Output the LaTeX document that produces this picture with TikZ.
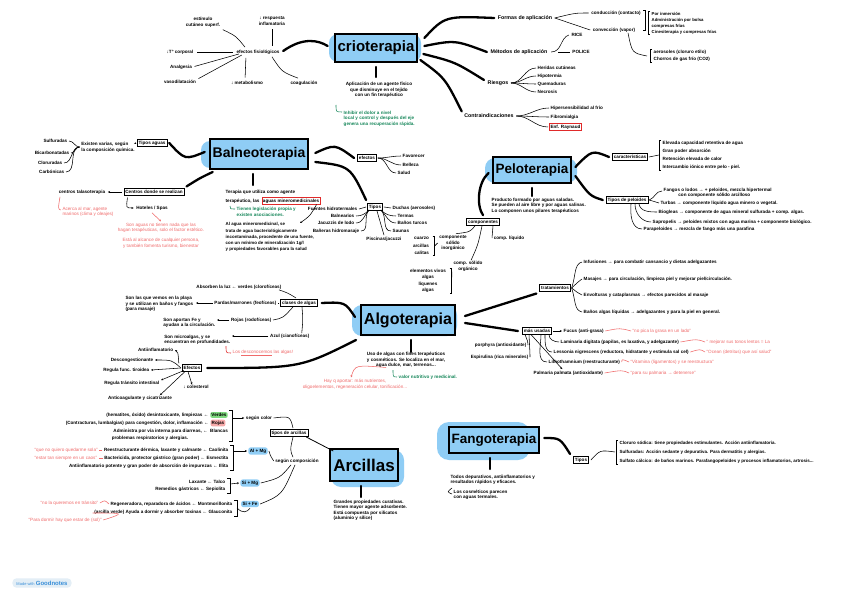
\documentclass[tikz,border=0pt]{standalone}
\usepackage{fontspec}
\setmainfont{Liberation Sans}
\usetikzlibrary{calc,arrows.meta}
\definecolor{skyb}{HTML}{8FCDF5}
\definecolor{grn}{HTML}{16875A}
\definecolor{redt}{HTML}{F06A6A}
\definecolor{redb}{HTML}{E02A2A}
\definecolor{pillg}{HTML}{7ED87E}
\definecolor{pillr}{HTML}{F7AAAA}
\definecolor{gnbg}{HTML}{E3EEF6}
\definecolor{gnblue}{HTML}{3A8FD8}
\begin{document}
\begin{tikzpicture}[x=1pt,y=1pt,
  tx/.style={font=\bfseries\fontsize{4.6}{5.6}\selectfont, inner sep=0.5pt, align=left},
  txc/.style={tx, align=center},
  txl/.style={font=\bfseries\fontsize{4.6}{7.5}\selectfont, inner sep=0.5pt, align=left},
  l1/.style={font=\bfseries\fontsize{5.3}{6}\selectfont, inner sep=0.5pt},
  gr/.style={tx, text=grn},
  rd/.style={tx, font=\fontsize{4.6}{5.6}\selectfont, text=redt},
  bx/.style={tx, draw, line width=0.7pt, inner sep=1.5pt},
  pill/.style={tx, fill=skyb, rounded corners=2.5pt, inner sep=1.5pt},
  ttl/.style={draw, line width=2pt, fill=skyb, inner sep=3pt},
  thk/.style={line width=2.3pt, line cap=round},
  thn/.style={line width=0.55pt},
  arr/.style={thn, -{Stealth[length=2.2pt,width=2pt]}}
]
\useasboundingbox (0,0) rectangle (848,-599);
\fill[white] (0,0) rectangle (848,-599);

% ================= CRIOTERAPIA =================
\fill[skyb, rounded corners=9pt] (329,-34) rectangle (421,-62);
\node[ttl, font=\bfseries\fontsize{15}{15}\selectfont, minimum height=28pt] (crio) at (376,-48) {crioterapia};
\draw[thk] ([yshift=-4]crio.south) -- ++(0,-10);
\node[txc] (crioDef) at (379,-90) {Aplicación de un agente físico\\que disminuye en el tejido\\con un fin terapéutico};
\node[gr, anchor=north west] (crioGr) at (343,-110) {Inhibir el dolor a nivel\\local y control y después del eje\\genera una recuperación rápida.};
\draw[grn, thn] (336,-105) .. controls (336,-112) .. (342,-112);

\node[tx] (efis) at (258,-52) {efectos fisiológicos};
\draw[thk] ([shift={(3,1)}]efis.east) .. controls (303,-37) and (318,-40) .. ([shift={(-6,2)}]crio.west);
\node[txc] (resp) at (272,-21) {↓ respuesta\\inflamatoria};
\draw[thn, shorten <=3pt, shorten >=3pt] (resp.south) -- (efis.north -| resp.south);
\node[txc] (estim) at (203,-22) {estímulo\\cutáneo superf.};
\draw[thn] ([shift={(2,-2)}]estim.south east) .. controls (236,-36) .. ([shift={(-13,2)}]efis.north);
\node[tx] (tcorp) at (180,-52) {↓T° corporal};
\draw[thn, shorten <=3pt, shorten >=3pt] (tcorp.east) -- (efis.west);
\node[tx] (analg) at (181,-67) {Analgesia};
\draw[thn, shorten <=2pt] (analg.east) -- ([shift={(3,-2)}]efis.west);
\node[tx] (vaso) at (180,-82) {vasodilatación};
\draw[thn, shorten <=2pt] (vaso.north east) -- ([shift={(6,-3)}]efis.west);
\node[tx] (metab) at (247,-83) {↓ metabolismo};
\draw[thn, shorten <=3pt, shorten >=3pt] ([xshift=-12]efis.south) -- ([xshift=-2]metab.north);
\node[tx] (coag) at (304,-83) {coagulación};
\draw[thn] ([shift={(14,-2)}]efis.south) .. controls (282,-72) .. ([shift={(-6,2)}]coag.north);

\node[l1] (formas) at (525,-18) {Formas de aplicación};
\node[l1] (metod) at (519,-52) {Métodos de aplicación};
\node[l1] (riesg) at (498,-83) {Riesgos};
\node[l1] (contra) at (489,-116) {Contraindicaciones};
\draw[thk] ([shift={(6,10)}]crio.east) .. controls (445,-16) .. ([xshift=-3]formas.west);
\draw[thk] ([shift={(6,2)}]crio.east) .. controls (455,-40) .. ([xshift=-3]metod.west);
\draw[thk] ([shift={(5,-6)}]crio.east) .. controls (455,-62) .. ([shift={(-3,3)}]riesg.west);
\draw[thk] ([shift={(2,-12)}]crio.east) .. controls (445,-78) .. ([shift={(-2,2)}]contra.north west);

\node[tx] (cond) at (616,-13) {conducción (contacto)};
\node[tx] (conv) at (614,-30) {convección (vapor)};
\draw[thn] ([xshift=2]formas.east) .. controls (575,-13) .. ([xshift=-2]cond.west);
\draw[thn] ([xshift=2]formas.east) -- ([xshift=-2]conv.west);
\draw[thn] ([xshift=2]cond.north east) -- ++(2,0) |- ([shift={(2,-14)}]cond.south east);
\node[tx, anchor=west, font=\bfseries\fontsize{4.3}{6}\selectfont] (fl1) at (651,-23) {Por inmersión\\Administración por bolsa\\compresas frías\\Cinesiterapia y compresas frías};
\draw[thn] ([xshift=-1]fl1.north west) -- ++(-2,0) |- ([xshift=-1]fl1.south west);
\node[txl, anchor=west] (fl2) at (653,-56) {aerosoles (cloruro etilo)\\Chorros de gas frío (CO2)};
\draw[thn] ([xshift=-1]fl2.north west) -- ++(-2,0) |- ([xshift=-1]fl2.south west);
\draw[thn] ([xshift=14]conv.south) .. controls (632,-53) .. ([xshift=-6]fl2.west);

\node[tx] (rice) at (577,-35) {RICE};
\node[tx] (police) at (581,-52) {POLICE};
\draw[thn] ([xshift=3]metod.east) .. controls (562,-52) and (560,-38) .. ([xshift=-2]rice.west);
\draw[thn] ([xshift=10]metod.east) -- ([xshift=-2]police.west);

\node[tx, anchor=west] (ri1) at (537,-68) {Heridas cutáneas};
\node[tx, anchor=west] (ri2) at (537,-76) {Hipotermia};
\node[tx, anchor=west] (ri3) at (537,-84) {Quemaduras};
\node[tx, anchor=west] (ri4) at (537,-92) {Necrosis};
\foreach \n in {ri1,ri2,ri3,ri4} \draw[thn] ([xshift=2]riesg.east) to[out=0,in=180] ([xshift=-1]\n.west);

\node[tx, anchor=west] (co1) at (550,-108) {Hipersensibilidad al frío};
\node[tx, anchor=west] (co2) at (550,-117) {Fibromialgia};
\node[tx, anchor=west, draw=redb, line width=0.7pt, inner sep=1.2pt] (co3) at (549,-127) {Enf. Raynaud};
\foreach \n in {co1,co2,co3} \draw[thn] ([xshift=2]contra.east) to[out=0,in=180] ([xshift=-1]\n.west);

% ================= BALNEOTERAPIA =================
\fill[skyb, rounded corners=9pt] (201,-141) rectangle (306,-168);
\node[ttl, font=\bfseries\fontsize{14}{14}\selectfont, minimum height=30pt] (balneo) at (259,-154) {Balneoterapia};
\node[bx] (tagua) at (152,-143) {Tipos aguas};
\draw[thk] ([shift={(-4,2)}]balneo.west) .. controls (185,-160) .. ([xshift=2]tagua.east);
\node[tx] (exist) at (108,-147) {Existen varias, según\\la composición química.};
\draw[arr] ([xshift=-2]tagua.west) -- ([shift={(1,3)}]exist.east);
\node[tx, anchor=east] (w1) at (68,-141) {Sulfuradas};
\node[tx, anchor=east] (w2) at (70,-153) {Bicarbonatadas};
\node[tx, anchor=east] (w3) at (63,-163) {Cloruradas};
\node[tx, anchor=east] (w4) at (65,-172) {Carbónicas};
\foreach \n in {w1,w2,w3,w4} \draw[thn] ([xshift=-1]exist.west) to[out=180,in=0] ([xshift=1]\n.east);

\node[bx] (centros) at (154,-192) {Centros donde se realizan};
\draw[thk] ([shift={(4,-2)}]balneo.south west) .. controls (200,-178) .. ([shift={(2,2)}]centros.north east);
\node[tx] (talaso) at (82,-192) {centros talasoterapia};
\draw[arr] ([xshift=-2]centros.west) -- ([xshift=2]talaso.east);
\node[rd] (acerca) at (88,-212) {Acerca al mar, agente\\marinos (clima y oleajes)};
\draw[redt, thn] ([shift={(-22,-2)}]talaso.south) .. controls (58,-209) .. ([shift={(-1,2)}]acerca.west);
\node[tx] (hoteles) at (152,-208) {Hoteles / Spas};
\draw[arr] ([shift={(4,-2)}]centros.south west) .. controls (126,-208) .. ([xshift=-2]hoteles.west);
\node[rd, align=center] (sonag) at (161,-228) {Son aguas no tienen nada que las\\hagan terapéuticas, solo el factor estético.};
\draw[redt, thn, -{Stealth[length=2pt,width=2pt]}] ([yshift=-2]hoteles.south) -- ([yshift=1]sonag.north);
\node[rd, align=center] (alcance) at (161,-243) {Está al alcance de cualquier persona,\\y también fomenta turismo, bienestar};

\draw[thk] ([shift={(-6,-4)}]balneo.south) -- ++(0,-11);
\node[tx, anchor=west] (bd1) at (225,-192) {Terapia que utiliza como agente};
\node[tx, anchor=west] (bd2) at (225,-201) {terapéutico, las};
\node[tx, anchor=west, draw=redb, line width=0.7pt, inner sep=1pt] (bd3) at ([xshift=1.5]bd2.east) {aguas mineromedicinales};
\node[gr, anchor=west] (bgr) at (236,-212) {Tienen legislación propia y\\existen asociaciones.};
\draw[grn, thn] (230,-206) .. controls (230,-209) .. (235,-209);
\node[tx, anchor=north west, font=\bfseries\fontsize{4.4}{6.2}\selectfont] (bagua) at (225,-222) {Al agua mineromedicinal, se\\trata de agua bacteriológicamente\\incontaminada, procedente de una fuente,\\con un mínimo de mineralización 1g/l\\y propiedades favorables para la salud};
\draw[arr] ([xshift=-4]bd3.south east) .. controls (310,-216) .. ([shift={(75,-1)}]bagua.north west);

\node[bx] (befec) at (367,-158) {efectos};
\draw[thk] ([shift={(6,1)}]balneo.east) .. controls (335,-144) .. ([xshift=-3]befec.west);
\node[tx, anchor=west] (bf1) at (402,-156) {Favorecer};
\node[tx, anchor=west] (bf2) at (402,-165) {Belleza};
\node[tx, anchor=west] (bf3) at (397,-173) {Salud};
\foreach \n in {bf1,bf2,bf3} \draw[thn] ([xshift=1]befec.east) to[out=0,in=180] ([xshift=-1]\n.west);

\node[bx] (btip) at (375,-207) {Tipos};
\draw[thk] ([shift={(6,-8)}]balneo.east) .. controls (350,-166) .. ([shift={(-1,3)}]btip.north west);
\node[tx, anchor=east] (bt1) at (358,-209) {Fuentes hidrotermales};
\node[tx, anchor=east] (bt2) at (355,-216) {Balnearios};
\node[tx, anchor=east] (bt3) at (355,-223) {Jacuzzis de lodo};
\node[tx, anchor=east] (bt4) at (360,-231) {Bañeras hidromasaje};
\node[tx] (bt5) at (384,-239) {Piscinas/jacuzzi};
\node[tx, anchor=west] (bt6) at (392,-208) {Duchas (aerosoles)};
\node[tx, anchor=west] (bt7) at (397,-216) {Termas};
\node[tx, anchor=west] (bt8) at (397,-223) {Baños turcos};
\node[tx, anchor=west] (bt9) at (392,-231) {Saunas};
\draw[thn] ([xshift=-1]btip.west) -- ([xshift=1]bt1.east);
\foreach \n in {bt2,bt3,bt4} \draw[thn] ([shift={(2,1)}]btip.south west) to[out=-135,in=0] ([xshift=1]\n.east);
\draw[thn] ([xshift=2]btip.south) -- ([yshift=1]bt5.north);
\draw[thn] ([xshift=1]btip.east) -- ([xshift=-1]bt6.west);
\foreach \n in {bt7,bt8,bt9} \draw[thn] ([shift={(-2,1)}]btip.south east) to[out=-45,in=180] ([xshift=-1]\n.west);

% ================= PELOTERAPIA =================
\fill[skyb, rounded corners=10pt] (485,-158) rectangle (577,-183);
\node[ttl, font=\bfseries\fontsize{13.5}{13.5}\selectfont, minimum height=26pt] (pelo) at (532,-170) {Peloterapia};
\draw[thk] ([yshift=-4]pelo.south) -- ++(0,-8);
\node[tx, anchor=north west] (pdef) at (491,-197) {Producto formado por aguas saladas.\\Se pueden al aire libre y por aguas salinas.\\Lo componen unos pilares terapéuticos};
\node[bx] (pcomp) at (483,-222) {componentes};
\draw[thk] ([shift={(-3,-3)}]pelo.west) .. controls (478,-182) and (476,-205) .. ([yshift=3]pcomp.north);
\node[tx] (pliq) at (509,-238) {comp. líquido};
\draw[thn] ([xshift=10]pcomp.south) .. controls (492,-238) .. ([xshift=-1]pliq.west);
\node[txc] (pinorg) at (453,-243) {componente\\sólido\\inorgánico};
\draw[thn] ([xshift=-8]pcomp.south) .. controls (470,-232) .. ([shift={(3,1)}]pinorg.north);
\node[txl, align=right] (pmin) at (421,-246) {cuarzo\\arcillas\\calitas};
\draw[thn] ([xshift=3]pmin.north east) -- ++(2,0) |- ([xshift=3]pmin.south east);
\draw[thn] ([xshift=5]pmin.east) -- ([xshift=-1]pinorg.west);
\node[txc] (porg) at (468,-266) {comp. sólido\\orgánico};
\draw[thn] ([xshift=-1]pcomp.south) .. controls (478,-245) .. ([xshift=3]porg.north);
\node[tx, align=center, font=\bfseries\fontsize{4.6}{6.4}\selectfont] (pviv) at (428,-281) {elementos vivos\\algas\\líquenes\\algas};
\draw[thn] ([xshift=3]pviv.north east) -- ++(2,0) |- ([xshift=3]pviv.south east);
\draw[thn] ([xshift=5]pviv.east) -- ([xshift=-1]porg.south west);

\node[bx] (pcar) at (630,-157) {características};
\draw[thk] ([shift={(3,3)}]pelo.east) .. controls (592,-150) .. ([xshift=-3]pcar.west);
\node[txl, anchor=west, font=\bfseries\fontsize{4.6}{8}\selectfont] (pcarl) at (662,-155) {Elevada capacidad retentiva de agua\\Gran poder absorción\\Retención elevada de calor\\Intercambio iónico entre pelo - piel.};
\draw[thn] ([xshift=-1]pcarl.north west) -- ++(-2,0) |- ([xshift=-1]pcarl.south west);
\draw[thn] ([xshift=1]pcar.east) -- ([xshift=-3]pcarl.west);

\node[bx] (ppel) at (627,-200) {Tipos de peloides};
\draw[thk] ([shift={(3,-6)}]pelo.east) .. controls (590,-196) .. ([xshift=-3]ppel.west);
\node[tx, anchor=west] (pel1) at (663,-193) {Fangos o lodos → + peloides, mezcla hipertermal\\\hspace*{3.2em}con componente sólido arcilloso};
\node[tx, anchor=west] (pel2) at (660,-203) {Turbas → componente líquido agua minero o vegetal.};
\node[tx, anchor=west] (pel3) at (658,-212) {Biogleas → componente de agua mineral sulfurada + comp. algas.};
\node[tx, anchor=west] (pel4) at (652,-222) {Sapropelis → peloides mixtos con agua marina + componente biológico.};
\node[tx, anchor=west] (pel5) at (643,-229) {Parapeloides → mezcla de fango más una parafina};
\draw[thn] ([xshift=1]ppel.east) to[out=20,in=180] ([shift={(-1,2)}]pel1.west);
\draw[thn] ([xshift=1]ppel.east) to[out=0,in=180] ([xshift=-1]pel2.west);
\draw[thn] ([xshift=12]ppel.south) to[out=-80,in=180] ([xshift=-1]pel3.west);
\draw[thn] ([xshift=8]ppel.south) to[out=-90,in=180] ([xshift=-1]pel4.west);
\draw[thn] ([xshift=4]ppel.south) to[out=-95,in=180] ([xshift=-1]pel5.west);

% ================= ALGOTERAPIA =================
\fill[skyb, rounded corners=10pt] (352,-305) rectangle (457,-336);
\node[ttl, font=\bfseries\fontsize{16}{16}\selectfont, minimum height=30pt] (algo) at (408,-320) {Algoterapia};
\draw[thk] ([shift={(3,-4)}]algo.south) -- ++(0,-12);
\node[txc] (adef) at (406,-360) {Uso de algas con fines terapéuticos\\y cosméticos. Se localiza en el mar,\\agua dulce, mar, terrenos...};
\node[gr, anchor=west] (agr) at (398,-377) {valor nutritivo y medicinal.};
\draw[grn, thn] (393,-370) .. controls (393,-377) .. ([xshift=-1]agr.west);
\node[rd, align=center] (ard) at (355,-384) {Hay q aportar: más nutrientes,\\oligoelementos, regeneración celular, tonificación...};
\draw[redt, thn, -{Stealth[length=2pt,width=2pt]}] ([shift={(-20,1)}]adef.south) .. controls (355,-365) .. ([shift={(-4,1)}]ard.north);

\node[bx] (aclas) at (299,-303) {clases de algas};
\draw[thk] ([shift={(-5,3)}]algo.west) .. controls (345,-302) .. ([xshift=4]aclas.east);
\node[tx, anchor=east] (averd) at (282,-287) {Absorben la luz ← verdes (clorofíceas)};
\draw[thn] ([shift={(-3,1)}]aclas.north) .. controls (288,-293) .. ([xshift=-3]averd.south east);
\node[tx, anchor=east] (apard) at (277,-303) {Pardas/marrones (feofíceas)};
\draw[thn] ([xshift=-1]aclas.west) -- ([xshift=1]apard.east);
\node[tx, anchor=east] (apardd) at (194,-304) {Son las que vemos en la playa\\y se utilizan en baños y fangos\\(para masaje)};
\draw[arr] ([xshift=-1]apard.west) -- ([shift={(2,1)}]apardd.east);
\node[tx, anchor=east] (aroj) at (272,-320) {Rojas (rodofíceas)};
\draw[thn] ([xshift=-6]aclas.south) .. controls (283,-318) .. ([xshift=1]aroj.east);
\node[tx, anchor=east] (arojd) at (216,-323) {Son aportan Fe y\\ayudan a la circulación.};
\draw[arr] ([xshift=-1]aroj.west) -- ([shift={(1,3)}]arojd.east);
\node[tx, anchor=east] (aazul) at (310,-336) {Azul (cianofíceas)};
\draw[thn] ([xshift=3]aclas.south) .. controls (303,-320) .. ([xshift=12]aazul.north);
\node[tx, anchor=east] (aazuld) at (231,-340) {Son microalgas, y se\\encuentran en profundidades.};
\draw[arr] ([xshift=-1]aazul.west) -- ([shift={(1,4)}]aazuld.east);
\node[rd, anchor=west] (adesc) at (232,-353) {Los \underline{desconocemos} las algas!};
\draw[redb, thn] (226,-346) .. controls (226,-353) .. ([xshift=-1]adesc.west);

\node[bx] (aefec) at (192,-368) {Efectos};
\draw[thk] ([shift={(-4,-4)}]algo.south west) .. controls (300,-368) .. ([xshift=5]aefec.east);
\node[tx, anchor=east] (ae1) at (174,-350) {Antiinflamatorio};
\node[tx, anchor=east] (ae2) at (154,-360) {Descongestionante};
\node[tx, anchor=east] (ae3) at (150,-370) {Regula func. tiroidea};
\node[tx, anchor=east] (ae4) at (160,-383) {Regula tránsito intestinal};
\node[tx] (ae5) at (196,-387) {↓ colesterol};
\node[tx] (ae6) at (140,-398) {Anticoagulante y cicatrizante};
\draw[arr] ([shift={(-3,1)}]aefec.north west) .. controls (178,-352) .. ([xshift=1]ae1.east);
\draw[arr] ([xshift=-1]aefec.west) .. controls (172,-360) .. ([xshift=1]ae2.east);
\draw[arr] ([xshift=-1]aefec.west) -- ([xshift=1]ae3.east);
\draw[arr] ([shift={(2,1)}]aefec.south west) -- ([xshift=1]ae4.north east);
\draw[arr] ([xshift=-4]aefec.south) -- ([xshift=-4]ae5.north);
\draw[arr] ([xshift=-7]aefec.south) -- ([xshift=20]ae6.north);

\node[bx] (atrat) at (555,-288) {tratamientos};
\draw[thk] ([shift={(9,4)}]algo.east) -- ([shift={(-3,-2)}]atrat.south west);
\node[tx, anchor=west] (tr1) at (583,-262) {Infusiones → para combatir cansancio y dietas adelgazantes};
\node[tx, anchor=west] (tr2) at (583,-279) {Masajes → para circulación, limpieza piel y mejorar piel/circulación.};
\node[tx, anchor=west] (tr3) at (583,-295) {Envolturas y cataplasmas → efectos parecidos al masaje};
\node[tx, anchor=west] (tr4) at (583,-312) {Baños algas líquidas → adelgazantes y para la piel en general.};
\draw[thn] ([xshift=1]atrat.east) .. controls (576,-275) and (574,-264) .. ([xshift=-1]tr1.west);
\draw[thn] ([xshift=1]atrat.east) .. controls (578,-282) .. ([xshift=-1]tr2.west);
\draw[thn] ([xshift=1]atrat.east) .. controls (578,-293) .. ([xshift=-1]tr3.west);
\draw[thn] ([xshift=1]atrat.east) .. controls (576,-302) and (574,-310) .. ([xshift=-1]tr4.west);

\node[bx] (amas) at (537,-331) {más usadas};
\draw[thk] ([shift={(9,-3)}]algo.east) -- ([xshift=-4]amas.west);
\node[tx, anchor=west] (mu1) at (563,-331) {Fucus (anti-grasa)};
\draw[arr] ([xshift=1]amas.east) -- ([xshift=-1]mu1.west);
\node[tx, anchor=west] (mu2) at (560,-342) {Laminaria digitata (papilas, es laxativa, y adelgazante)};
\node[tx, anchor=west] (mu3) at (553,-352) {Lessonia nigrescens (reductora, hidratante y estimula sal cel)};
\node[tx, anchor=west] (mu4) at (548,-362) {Lithothamnium (reestructurante)};
\node[tx, anchor=west] (mu5) at (533,-373) {Palmaria palmata (antioxidante)};
\draw[thn] ([xshift=12]amas.south) to[out=-90,in=180] ([xshift=-1]mu2.west);
\draw[thn] ([xshift=8]amas.south) to[out=-90,in=180] ([xshift=-1]mu3.west);
\draw[thn] ([xshift=4]amas.south) to[out=-90,in=180] ([xshift=-1]mu4.west);
\draw[arr] ([xshift=-6]amas.south) -- ([xshift=-6,yshift=1]mu5.north);
\node[tx, anchor=east] (mu6) at (527,-345) {porphyra (antioxidante)};
\node[tx, anchor=east] (mu7) at (529,-357) {Espirulina (rica minerales)};
\draw[thn] ([xshift=-12]amas.south) .. controls (528,-342) .. ([xshift=1]mu6.east);
\draw[thn] ([xshift=-8]amas.south) .. controls (530,-354) .. ([xshift=1]mu7.east);
\node[rd, anchor=west] (mr1) at (632,-331) {“no pica la grasa en un lado”};
\node[rd, anchor=west] (mr2) at (706,-342) {“ mejorar sus tonos lentos = La};
\node[rd, anchor=west] (mr3) at (706,-352) {“Ocean (detritus) que así salud”};
\node[rd, anchor=west] (mr4) at (630,-362) {“Vitamina (ligamentos) y se reestructura”};
\node[rd, anchor=west] (mr5) at (630,-373) {“para su palmaria → detenerse”};
\draw[redt, thn] ([xshift=1]mu1.east) .. controls (620,-328) .. ([xshift=-1]mr1.west);
\draw[redt, thn] ([xshift=1]mu2.east) .. controls (697,-339) .. ([xshift=-1]mr2.west);
\draw[redt, thn] ([xshift=1]mu3.east) .. controls (700,-349) .. ([xshift=-1]mr3.west);
\draw[redt, thn] ([xshift=1]mu4.east) .. controls (622,-359) .. ([xshift=-1]mr4.west);
\draw[redt, thn] ([xshift=1]mu5.east) .. controls (622,-370) .. ([xshift=-1]mr5.west);

% ================= ARCILLAS =================
\fill[skyb, rounded corners=10pt] (331,-450) rectangle (404,-487);
\node[ttl, font=\bfseries\fontsize{17}{17}\selectfont, minimum height=32pt] (arci) at (364,-465) {Arcillas};
\draw[thk] ([shift={(-3,-4)}]arci.south) -- ++(0,-11);
\node[tx, anchor=north west] (arcdef) at (333,-499) {Grandes propiedades curativas.\\Tienen mayor agente adsorbente.\\Está compuesta por silicatos\\(aluminio y sílice)};
\node[bx] (atip) at (289,-433) {tipos de arcillas};
\draw[line width=0.8pt] ([xshift=-2]atip.south east) -- ([shift={(4,-3)}]arci.north west);
\node[tx] (scol) at (259,-418) {según color};
\draw[thn] ([xshift=1]scol.east) .. controls (290,-416) .. ([xshift=4,yshift=1]atip.north);
\node[tx] (scomp) at (297,-461) {según composición};
\draw[thn] ([xshift=4]atip.south) .. controls (290,-450) .. ([xshift=-4,yshift=1]scomp.north);

\node[tx, fill=pillg, rounded corners=2pt, inner sep=1.2pt] (verd) at (219,-415) {Verdes};
\node[tx, fill=pillr, rounded corners=2pt, inner sep=1.2pt] (roj) at (218,-423) {Rojas};
\node[tx] (blan) at (219,-431) {Blancas};
\node[tx, anchor=east] (cv1) at ([xshift=-1]verd.west) {(hematites, óxido) desintoxicante, limpiezas ←};
\node[tx, anchor=east] (cv2) at ([xshift=-1]roj.west) {(Contracturas, lumbalgias) para congestión, dolor, inflamación ←};
\node[tx, anchor=east] (cv3) at ([xshift=-1]blan.west) {Administra por vía interna para diarreas, ←};
\node[tx] (cv4) at (150,-438) {problemas respiratorios y alergias.};
\draw[thn] (229,-410) -- (232,-410) -- (232,-441) -- (229,-441);
\draw[arr] (232,-418) -- ([xshift=-1]scol.west);

\node[pill] (p1) at (258,-451) {Al + Mg};
\node[pill] (p2) at (250,-483) {Si + Mg};
\node[pill] (p3) at (250,-504) {Si + Fe};
\draw[thn] ([xshift=-1]scomp.west) .. controls (270,-455) .. ([xshift=1]p1.east);
\draw[thn] ([shift={(-6,-1)}]scomp.south) .. controls (280,-478) .. ([xshift=1]p2.east);
\draw[thn] ([shift={(-2,-1)}]scomp.south) .. controls (282,-495) .. ([xshift=1]p3.east);

\node[tx, anchor=east] (cc1) at (229,-450) {Reestructurante dérmica, laxante y calmante ← Caolinita};
\node[tx, anchor=east] (cc2) at (229,-458) {Bactericida, protector gástrico (gran poder) ← Esmectita};
\node[tx, anchor=east] (cc3) at (229,-466) {Antiinflamatorio potente y gran poder de absorción de impurezas ← Illita};
\draw[thn] (230,-445) -- (233,-445) -- (233,-470) -- (230,-470);
\draw[arr] (233,-451) -- ([xshift=-1]p1.west);
\node[rd, anchor=west] (rq1) at (34,-450) {“que no quiero quedarme sola”};
\node[rd, anchor=west] (rq2) at (34,-458) {“estar tan siempre en un caos”};
\draw[redt, thn] ([xshift=1]rq1.east) -- ([xshift=-1]cc1.west);
\draw[redt, thn] ([xshift=1]rq2.east) -- ([xshift=-1]cc2.west);

\node[tx, anchor=east] (cc4) at (226,-482) {Laxante ← Talco};
\node[tx, anchor=east] (cc5) at (226,-489) {Remedios gástricos ← Sepiolita};
\draw[thn] (227,-478) -- (230,-478) -- (230,-493) -- (227,-493);
\draw[arr] (230,-484) -- ([xshift=-1]p2.west);

\node[tx, anchor=east] (cc6) at (233,-504) {Regeneradora, reparadora de ácidos ← Montmorillonita};
\node[tx, anchor=east] (cc7) at (233,-512) {(arcilla verde) Ayuda a dormir y absorber toxinas ← Glauconita};
\draw[thn] (234,-500) -- (237,-500) -- (237,-516) -- (234,-516);
\draw[thn] (237,-508) .. controls (243,-514) and (247,-512) .. ([yshift=-1]p3.south);
\node[rd, anchor=west] (rq3) at (40,-503) {“no la queremos en tránsito”};
\node[rd, anchor=west] (rq4) at (28,-520) {“Para dormir hay que estar de (sol)”};
\draw[redt, thn] ([xshift=1]rq3.east) .. controls ([xshift=6,yshift=3]rq3.east) .. ([xshift=-1]cc6.west);
\draw[redt, thn] ([xshift=1]rq4.east) .. controls (125,-513) .. ([xshift=-1,yshift=-1]cc7.west);

% ================= FANGOTERAPIA =================
\fill[skyb, rounded corners=12pt] (437,-422) rectangle (530,-460);
\node[ttl, font=\bfseries\fontsize{13.5}{13.5}\selectfont, minimum height=26pt] (fango) at (494,-440) {Fangoterapia};
\draw[thk] ([shift={(-4,-4)}]fango.south) -- ++(0,-11);
\node[tx, anchor=north west] (fdef) at (450,-474) {Todos depurativos, antiinflamatorios y\\resultados rápidos y eficaces.};
\node[tx, anchor=north west] (fdef2) at (453,-489) {Los cosméticos parecen\\con aguas termales.};
\draw[thn] ([shift={(-1,1)}]fdef2.north west) .. controls ([shift={(-6,-3)}]fdef2.north west) .. ([shift={(-1,-5)}]fdef2.north west);
\node[bx] (ftip) at (581,-460) {Tipos};
\draw[thk] ([shift={(4,2)}]fango.east) .. controls (560,-438) .. ([shift={(-3,2)}]ftip.north west);
\node[txl, anchor=west, font=\bfseries\fontsize{4.5}{9}\selectfont] (ftl) at (619,-452) {Cloruro sódica: tiene propiedades estimulantes. Acción antiinflamatoria.\\Sulfuradas: Acción sedante y depurativa. Para dermatitis y alergias.\\Sulfato cálcico: de baños marinos. Parafangopeloides y procesos inflamatorios, artrosis...};
\draw[thn] ([xshift=-1]ftl.north west) -- ++(-2,0) |- ([xshift=-1]ftl.south west);
\draw[thn] ([xshift=2]ftip.east) .. controls (600,-450) .. ([xshift=-4]ftl.west);

% ================= GOODNOTES BADGE =================
\node[fill=gnbg, rounded corners=4pt, inner xsep=4pt, inner ysep=2.5pt, font=\fontsize{4}{4}\selectfont, text=gnblue] (gn) at (42,-583) {Made with {\fontsize{6}{6}\selectfont\bfseries Goodnotes}};
\end{tikzpicture}
\end{document}
